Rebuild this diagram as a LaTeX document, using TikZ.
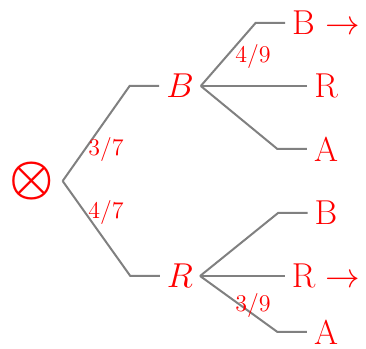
\documentclass[tikz,border=0pt]{standalone}
\usepackage{bm}
\usepackage{tikz}
\usetikzlibrary{positioning, calc, arrows.meta}
\tikzset{
	bigredtext/.style={font=\LARGE\color{red}, inner ysep=1pt}
}
\tikzset{
	smallredtext/.style={font=\large\color{red}}
}
\tikzset{
	branch/.style={gray, line width=1pt}
}
\begin{document}
\begin{tikzpicture}[>=stealth]
      \useasboundingbox (0,0) rectangle (6.432,6.133);
      % root and first draw
      \node[font=\Huge\color{red}, inner sep=4pt] (root) at (0.562,2.952) {$\bm{\otimes}$};
      \node[bigredtext] (B) at (3.163,4.622) {$B$};
      \node[bigredtext] (R) at (3.163,1.283) {$R$};

      % second draw after B
      \node[bigredtext] (BB) at (5.729,5.729) {B $\rightarrow$};
      \node[bigredtext] (BR) at (5.729,4.622) {R};
      \node[bigredtext] (BA) at (5.729,3.515) {A};

      % second draw after R
      \node[bigredtext] (RB) at (5.729,2.390) {B};
      \node[bigredtext] (RR) at (5.729,1.283) {R $\rightarrow$};
      \node[bigredtext] (RA) at (5.729,0.30) {A};

      \draw[branch] (B.west) -- ++(-0.52,0) -- (root.east);
      \draw[branch] (R.west) -- ++(-0.52,0) -- (root.east);
      \draw[branch] (BB.west) -- ++(-0.52,0) -- (B.east);
      \draw[branch] (BR.west) -- ++(-0.52,0) -- (B.east);
      \draw[branch] (BA.west) -- ++(-0.52,0) -- (B.east);
      \draw[branch] (RB.west) -- ++(-0.52,0) -- (R.east);
      \draw[branch] (RR.west) -- ++(-0.52,0) -- (R.east);
      \draw[branch] (RA.west) -- ++(-0.52,0) -- (R.east);

      \node[smallredtext] (pB) at (1.863,3.497) {$3/7$};
      \node[smallredtext] (pR) at (1.863,2.407) {$4/7$};
      \node[smallredtext] (pBB) at (4.446,5.140) {$4/9$};
      \node[smallredtext] (pRA) at (4.446,0.764) {$3/9$};
    \end{tikzpicture}
\end{document}
